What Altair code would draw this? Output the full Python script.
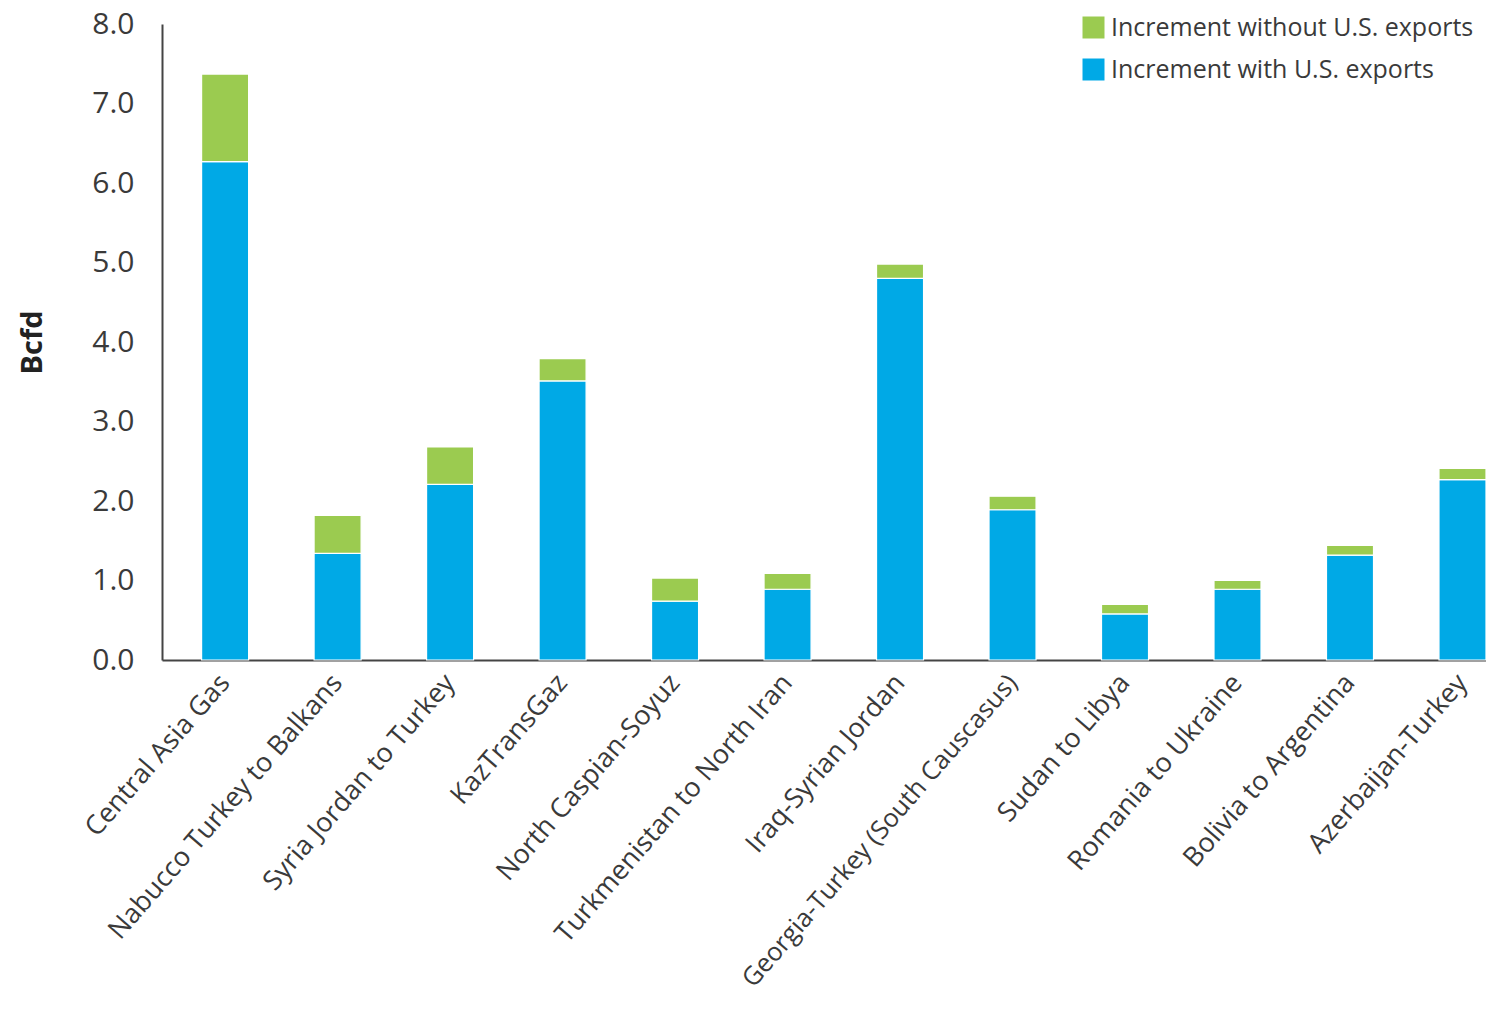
import altair as alt
import pandas as pd

categories = [
    "Central Asia Gas", "Nabucco Turkey to Balkans", "Syria Jordan to Turkey",
    "KazTransGaz", "North Caspian-Soyuz", "Turkmenistan to North Iran",
    "Iraq-Syrian Jordan", "Georgia-Turkey (South Causcasus)", "Sudan to Libya",
    "Romania to Ukraine", "Bolivia to Argentina", "Azerbaijan-Turkey",
]
with_us = [6.27, 1.34, 2.21, 3.51, 0.74, 0.89, 4.80, 1.89, 0.58, 0.89, 1.32, 2.27]
without_us_extra = [1.10, 0.48, 0.47, 0.28, 0.29, 0.20, 0.18, 0.17, 0.12, 0.11, 0.12, 0.14]
series = ["Increment without U.S. exports", "Increment with U.S. exports"]
colors = ["#9BCB50", "#00A9E6"]
y_ticks = [0, 1, 2, 3, 4, 5, 6, 7, 8]

rows = []
for i, c in enumerate(categories):
    rows.append({"cat": c, "series": series[1], "value": with_us[i], "order": 0})
    rows.append({"cat": c, "series": series[0], "value": without_us_extra[i], "order": 1})
df = pd.DataFrame(rows)

FONT = "Open Sans"
TXT = "#3a3a3a"

label_size = {"condition": {"test": "length(datum.label) > 28", "value": 25.5}, "value": 27}

chart = alt.Chart(df).mark_bar(stroke="white", strokeWidth=1.2).encode(
    x=alt.X("cat:N", sort=categories,
            scale=alt.Scale(paddingInner=0.582, paddingOuter=0.176, align=1),
            axis=alt.Axis(title=None, labelAngle=311, labelAlign="right",
                          labelBaseline="middle", labelFontSize=label_size, labelFont=FONT,
                          labelColor=TXT, ticks=False, labelPadding=18,
                          domainColor="#444444", domainWidth=2, labelLimit=600)),
    y=alt.Y("value:Q", stack="zero",
            scale=alt.Scale(domain=[0, 8], nice=False),
            axis=alt.Axis(title="Bcfd", values=y_ticks, format=".1f", grid=False,
                          ticks=False, labelFontSize=30, labelFont=FONT, labelColor=TXT,
                          labelPadding=28, domainColor="#444444", domainWidth=2,
                          titleFont=FONT, titleFontSize=29, titleFontWeight="bold",
                          titleColor="#222222", titlePadding=44)),
    color=alt.Color("series:N", sort=series,
                    scale=alt.Scale(domain=series, range=colors),
                    legend=alt.Legend(title=None, orient="none", legendX=919, legendY=-9,
                                      symbolType="square", symbolSize=484,
                                      symbolStrokeWidth=0, labelFont=FONT,
                                      labelFontSize=25, labelColor=TXT,
                                      labelOffset=5, rowPadding=16, labelLimit=600)),
    order=alt.Order("order:Q"),
).properties(
    width=1324, height=636,
    autosize=alt.AutoSizeParams(type="none"),
    padding={"left": 154, "top": 16, "right": 0, "bottom": 344},
).configure_view(stroke=None)

chart.save("out.html", embed_options={"renderer": "svg", "actions": False})
